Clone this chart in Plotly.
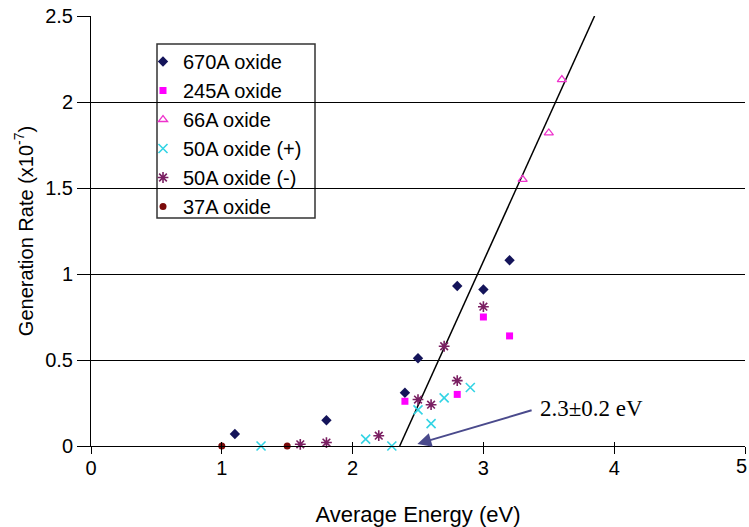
import plotly.graph_objects as go

# ---- data ----
x_670 = [1.1, 1.8, 2.4, 2.5, 2.8, 3.0, 3.2]
y_670 = [0.07, 0.15, 0.31, 0.51, 0.93, 0.91, 1.08]

x_245 = [2.4, 2.8, 3.0, 3.2]
y_245 = [0.26, 0.30, 0.75, 0.64]

x_66 = [3.3, 3.5, 3.6]
y_66 = [1.55, 1.82, 2.13]

x_50p = [1.3, 2.1, 2.3, 2.5, 2.6, 2.7, 2.9]
y_50p = [0.0, 0.04, 0.0, 0.21, 0.13, 0.28, 0.34]

x_50m = [1.6, 1.8, 2.2, 2.5, 2.6, 2.7, 2.8, 3.0]
y_50m = [0.01, 0.02, 0.06, 0.27, 0.24, 0.58, 0.38, 0.81]

x_37 = [1.0, 1.5]
y_37 = [0.0, 0.0]

fit_x = [2.36, 3.85]
fit_y = [0.0, 2.5]

arrow_head = (2.495, 0.012)
arrow_tail = (3.38, 0.21)
label_text = "2.3±0.2 eV"
last_x_tick = 5

FONT = "Liberation Sans, Arial, sans-serif"

fig = go.Figure()

fig.add_trace(go.Scatter(x=fit_x, y=fit_y, mode="lines",
                         line=dict(color="black", width=1.5), showlegend=False))

series = [
    ("670A oxide", x_670, y_670, dict(symbol="diamond", size=8, color="#14145a")),
    ("245A oxide", x_245, y_245, dict(symbol="square", size=7, color="#ff00ff")),
    ("66A oxide", x_66, y_66, dict(symbol="triangle-up-open", size=8, color="#ee33cc",
                                   line=dict(width=1.3, color="#ee33cc"))),
    ("50A oxide (+)", x_50p, y_50p, dict(symbol="x-thin-open", size=9, color="#33d4e4",
                                         line=dict(width=1.6, color="#33d4e4"))),
    ("50A oxide (-)", x_50m, y_50m, dict(symbol="asterisk-open", size=9, color="#7a1f62",
                                         line=dict(width=1.6, color="#7a1f62"))),
    ("37A oxide", x_37, y_37, dict(symbol="circle", size=7, color="#7a0a0a")),
]
for name, xs, ys, mk in series:
    fig.add_trace(go.Scatter(x=xs, y=ys, mode="markers", name=name, marker=mk,
                             cliponaxis=False))

# inside tick marks for x axis (crossing ticks)
fig.add_trace(go.Scatter(x=[0, 5], y=[0, 0], mode="markers", marker=dict(opacity=0),
                         xaxis="x2", showlegend=False, hoverinfo="skip"))

W, H = 749, 527
L, T, R, B = 91, 16, 4, 81

# convert pixel positions (reference coordinates) to paper fractions
def px_x(p):
    return (p - L) / float(W - L - R)

def px_y(p):
    return (H - B - p) / float(H - T - B)

fig.update_layout(
    width=W, height=H,
    margin=dict(l=L, r=R, t=T, b=B, autoexpand=False),
    paper_bgcolor="white", plot_bgcolor="white",
    font=dict(family=FONT, size=20, color="black"),
    xaxis=dict(range=[0, 5], dtick=1, tick0=0, showgrid=False, zeroline=False,
               showline=True, linecolor="black", linewidth=1,
               ticks="outside", ticklen=7, tickcolor="black", tickwidth=1,
               tickfont=dict(size=20), ticklabelstandoff=-3,
               title=dict(text="Average Energy (eV)", font=dict(size=22), standoff=30)),
    xaxis2=dict(range=[0, 5], dtick=1, tick0=0, overlaying="x", side="bottom",
                showgrid=False, zeroline=False, showline=False, showticklabels=False,
                ticks="inside", ticklen=4, tickcolor="black", tickwidth=1),
    yaxis=dict(range=[0, 2.5], dtick=0.5, tick0=0, showgrid=True, gridcolor="black",
               gridwidth=1, zeroline=False, showline=True, linecolor="black", linewidth=1,
               ticks="outside", ticklen=13, tickcolor="black", tickwidth=1,
               tickfont=dict(size=20),
               title=dict(text="Generation Rate (x10<sup>-7</sup>)", font=dict(size=20),
                          standoff=6)),
    legend=dict(x=px_x(143), y=px_y(42), xanchor="left", yanchor="top",
                bgcolor="rgba(0,0,0,0)", borderwidth=0,
                font=dict(size=20, family=FONT)),
    shapes=[dict(type="rect", xref="paper", yref="paper",
                 x0=px_x(157), x1=px_x(315), y0=px_y(218), y1=px_y(44),
                 fillcolor="white", line=dict(color="#333333", width=1.5),
                 layer="between")],
    annotations=[
        dict(x=arrow_head[0], y=arrow_head[1], ax=arrow_tail[0], ay=arrow_tail[1],
             xref="x", yref="y", axref="x", ayref="y", text="", showarrow=True,
             arrowhead=2, arrowsize=1.4, arrowwidth=2, arrowcolor="#4a4a8c"),
        dict(x=px_x(538), y=px_y(408), xref="paper", yref="paper", text=label_text,
             showarrow=False, xanchor="left", yanchor="middle",
             font=dict(family="Liberation Serif, Times New Roman, serif", size=23,
                       color="black")),
        # last x tick label at the right edge
        dict(x=last_x_tick, y=px_y(466), xref="x", yref="paper", text=str(last_x_tick),
             showarrow=False, xanchor="right", yanchor="middle", xshift=4,
             font=dict(family=FONT, size=20, color="black")),
    ],
)

fig.write_html("out.html", config={"displayModeBar": False},
               post_script="document.body.style.margin='0';")
